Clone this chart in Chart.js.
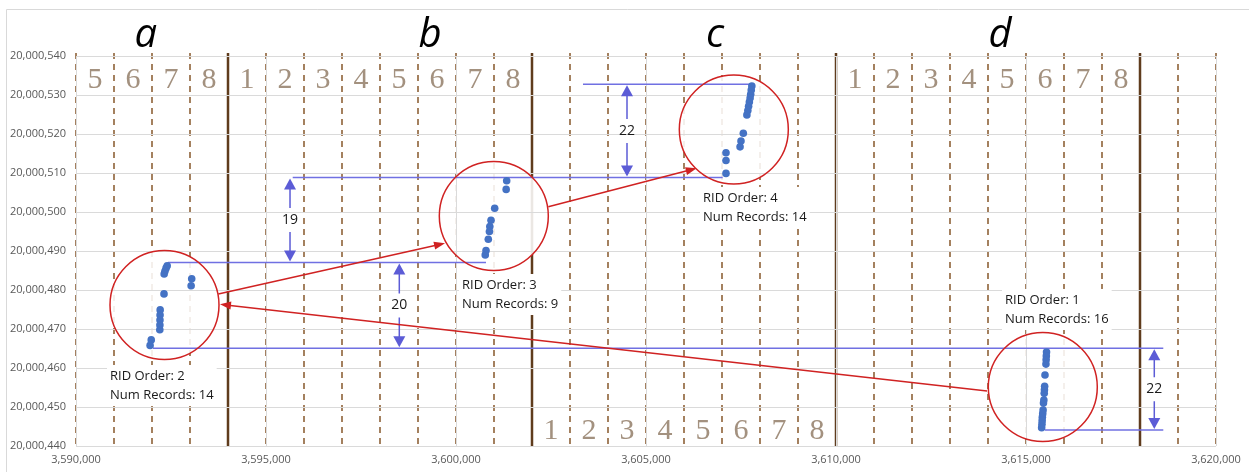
<!DOCTYPE html>
<html><head><meta charset="utf-8">
<script src="https://cdn.jsdelivr.net/npm/chart.js@4.4.1/dist/chart.umd.min.js"></script>
<style>html,body{margin:0;padding:0;background:#fff;}canvas{display:block;}</style>
</head><body>
<canvas id="c" width="1249" height="472"></canvas>
<script>
// ---- data ----
const rid1X = [3615540,3615535,3615530,3615525,3615500,3615490,3615485,3615480,3615470,3615460,3615450,3615440,3615430,3615425,3615420,3615412];
const rid1Y = [20000464.1,20000463.1,20000462.1,20000461.0,20000458.2,20000455.3,20000454.4,20000453.5,20000451.8,20000451.0,20000449.2,20000448.3,20000447.4,20000446.5,20000445.6,20000444.7];
const rid2X = [3592400,3592370,3592340,3592320,3593045,3593030,3592316,3592215,3592212,3592210,3592208,3592205,3591980,3591950];
const rid2Y = [20000486.2,20000485.6,20000484.8,20000484.1,20000482.9,20000481.1,20000479.0,20000474.9,20000473.6,20000472.3,20000471.0,20000469.8,20000467.2,20000465.8];
const rid3X = [3601334,3601320,3601018,3600921,3600890,3600880,3600850,3600790,3600770];
const rid3Y = [20000508.0,20000505.8,20000500.95,20000497.9,20000496.3,20000495.0,20000493.0,20000490.1,20000489.0];
const rid4X = [3607785,3607770,3607755,3607740,3607720,3607700,3607680,3607655,3607561,3607500,3607475,3607105,3607105,3607105];
const rid4Y = [20000532.3,20000531.3,20000530.2,20000529.2,20000528.2,20000527.1,20000526.0,20000524.9,20000520.2,20000518.2,20000516.7,20000515.2,20000513.2,20000509.9];

const xMin = 3590000, xMax = 3620000, xStep = 5000;
const yMin = 20000440, yMax = 20000540, yStep = 10;

// panel letters
const panelLetters = ['a','b','c','d'];
const panelLetterX = [3591834,3599316,3606816,3614316];
const panelLetterY = 20000542.4;

// divider lines
const dashedX = [3590000,3591000,3592000,3593000,3595000,3596000,3597000,3598000,3599000,3600000,3601000,
  3603000,3604000,3605000,3606000,3607000,3608000,3609000,3611000,3612000,3613000,3614000,3615000,3616000,3617000,3619000,3620000];
const solidX = [3594000,3602000,3610000,3618000];

// slot digits
const topDigits = ['5','6','7','8','1','2','3','4','5','6','7','8','1','2','3','4','5','6','7','8'];
const topDigitX = [3590500,3591500,3592500,3593500,3594500,3595500,3596500,3597500,3598500,3599500,3600500,3601500,
  3610500,3611500,3612500,3613500,3614500,3615500,3616500,3617500];
const topDigitY = 20000531.7;
const bottomDigits = ['1','2','3','4','5','6','7','8'];
const bottomDigitX = [3602500,3603500,3604500,3605500,3606500,3607500,3608500,3609500];
const bottomDigitY = 20000441.8;

// circles (centres)
const circleX = [3592329,3600995,3607311,3615442];
const circleY = [20000476.15,20000498.97,20000521.15,20000455.13];

// red arrows [x1,y1,x2,y2]
const redArrows = [
  [3593745,20000478.97,3599711,20000491.97],
  [3602429,20000501.36,3606334,20000511.2],
  [3613974,20000454.1,3593789,20000476.33]
];

// blue reference lines [y, xStart, xEnd]
const refLineY = [20000532.74,20000508.85,20000487.05,20000465.05,20000444.1];
const refLineX1 = [3603342,3595703,3592421,3592026,3615500];
const refLineX2 = [3607789,3607018,3600789,3618613,3618613];

// dimension arrows
const dimX = [3595632,3598508,3604500,3618376];
const dimTop = [20000508.85,20000487.05,20000532.74,20000465.05];
const dimBottom = [20000487.05,20000465.05,20000508.85,20000444.1];
const dimLabels = ['19','20','22','22'];

// text labels
const noteX = [3590895,3600158,3606500,3614447];
const noteY = [20000457.95,20000481.28,20000503.6,20000477.44];
const noteLine1 = ['RID Order: 2','RID Order: 3','RID Order: 4','RID Order: 1'];
const noteLine2 = ['Num Records: 14','Num Records: 9','Num Records: 14','Num Records: 16'];

function fmt(v){ return Math.round(v).toString().replace(/\B(?=(\d{3})+(?!\d))/g, ','); }
function pts(xs, ys){ return xs.map((v,i)=>({x:v,y:ys[i]})); }

const BLUE_LINE = 'rgb(112,112,226)';
const BLUE_HEAD = 'rgb(92,92,214)';
const RED = 'rgb(208,34,34)';

function arrowHead(ctx, x1, y1, x2, y2, len, wid, color){
  const a = Math.atan2(y2-y1, x2-x1);
  ctx.save(); ctx.fillStyle = color;
  ctx.translate(x2, y2); ctx.rotate(a);
  ctx.beginPath(); ctx.moveTo(0,0); ctx.lineTo(-len, wid/2); ctx.lineTo(-len, -wid/2); ctx.closePath(); ctx.fill();
  ctx.restore();
}

const overlay = {
  id: 'overlay',
  beforeDraw(chart){
    const {ctx, chartArea: ca} = chart;
    const sx = chart.scales.x, sy = chart.scales.y;
    const px = v => sx.getPixelForValue(v), py = v => sy.getPixelForValue(v);
    ctx.save();
    // outer frame
    ctx.strokeStyle = '#d9d9d9'; ctx.lineWidth = 1;
    ctx.beginPath(); ctx.moveTo(6.5, 472); ctx.lineTo(6.5, 9.5); ctx.lineTo(1249, 9.5); ctx.stroke();
    // dashed dividers
    ctx.strokeStyle = '#8e6238'; ctx.lineWidth = 1.6; ctx.setLineDash([6,5]);
    dashedX.forEach(v => { const X = px(v); ctx.beginPath(); ctx.moveTo(X, ca.top - 3); ctx.lineTo(X, ca.bottom); ctx.stroke(); });
    ctx.setLineDash([]);
    ctx.strokeStyle = '#5f3c1d'; ctx.lineWidth = 2.5;
    solidX.forEach(v => { const X = px(v); ctx.beginPath(); ctx.moveTo(X, ca.top - 3); ctx.lineTo(X, ca.bottom); ctx.stroke(); });
    // digits
    ctx.fillStyle = '#a3917f'; ctx.font = '30px "Liberation Serif", "DejaVu Serif", serif';
    ctx.textAlign = 'center'; ctx.textBaseline = 'alphabetic';
    topDigits.forEach((t,i) => ctx.fillText(t, px(topDigitX[i]), py(topDigitY)));
    bottomDigits.forEach((t,i) => ctx.fillText(t, px(bottomDigitX[i]), py(bottomDigitY)));
    // circle fills (fade lines behind)
    ctx.fillStyle = 'rgba(255,255,255,0.88)';
    circleX.forEach((v,i) => { ctx.beginPath(); ctx.arc(px(v), py(circleY[i]), 54.5, 0, Math.PI*2); ctx.fill(); });
    ctx.restore();
  },
  beforeDatasetsDraw(chart){
    const {ctx} = chart;
    const sx = chart.scales.x, sy = chart.scales.y;
    const px = v => sx.getPixelForValue(v), py = v => sy.getPixelForValue(v);
    ctx.save();
    // note boxes
    ctx.font = '13px "Open Sans", sans-serif'; ctx.textAlign = 'left'; ctx.textBaseline = 'middle';
    noteX.forEach((v,i) => {
      const X = px(v), Y = py(noteY[i]);
      const w = Math.max(ctx.measureText(noteLine1[i]).width, ctx.measureText(noteLine2[i]).width);
      ctx.fillStyle = '#fff'; ctx.fillRect(X - 3, Y - 11, w + 6, 41);
      ctx.fillStyle = '#1a1a1a';
      ctx.fillText(noteLine1[i], X, Y);
      ctx.fillText(noteLine2[i], X, Y + 19);
    });
    // blue reference lines
    ctx.strokeStyle = BLUE_LINE; ctx.lineWidth = 1.5;
    refLineY.forEach((v,i) => { const Y = py(v); ctx.beginPath(); ctx.moveTo(px(refLineX1[i]), Y); ctx.lineTo(px(refLineX2[i]), Y); ctx.stroke(); });
    // dimension arrows
    ctx.font = '14px "Open Sans", sans-serif'; ctx.textAlign = 'center'; ctx.textBaseline = 'middle';
    dimX.forEach((v,i) => {
      const X = px(v), Y1 = py(dimTop[i]), Y2 = py(dimBottom[i]), M = (Y1+Y2)/2;
      ctx.strokeStyle = BLUE_HEAD; ctx.lineWidth = 1.5;
      ctx.beginPath(); ctx.moveTo(X, Y1 + 10); ctx.lineTo(X, M - 12); ctx.moveTo(X, M + 12); ctx.lineTo(X, Y2 - 10); ctx.stroke();
      arrowHead(ctx, X, M, X, Y1 + 1, 11, 12, BLUE_HEAD);
      arrowHead(ctx, X, M, X, Y2 - 1, 11, 12, BLUE_HEAD);
      ctx.fillStyle = '#1a1a1a'; ctx.fillText(dimLabels[i], X, M);
    });
    // circles
    ctx.strokeStyle = RED; ctx.lineWidth = 1.5;
    circleX.forEach((v,i) => { ctx.beginPath(); ctx.arc(px(v), py(circleY[i]), 54.5, 0, Math.PI*2); ctx.stroke(); });
    // red arrows
    redArrows.forEach(a => {
      const x1 = px(a[0]), y1 = py(a[1]), x2 = px(a[2]), y2 = py(a[3]);
      const ang = Math.atan2(y2-y1, x2-x1);
      ctx.strokeStyle = RED; ctx.lineWidth = 1.5;
      ctx.beginPath(); ctx.moveTo(x1, y1); ctx.lineTo(x2 - Math.cos(ang)*8, y2 - Math.sin(ang)*8); ctx.stroke();
      arrowHead(ctx, x1, y1, x2, y2, 11, 8, RED);
    });
    // panel letters
    ctx.fillStyle = '#000'; ctx.font = 'italic 40px "Open Sans", sans-serif';
    ctx.textAlign = 'center'; ctx.textBaseline = 'alphabetic';
    panelLetters.forEach((t,i) => ctx.fillText(t, px(panelLetterX[i]), py(panelLetterY)));
    ctx.restore();
  }
};

const dsStyle = {pointRadius: 3.8, pointHoverRadius: 3.8, pointBackgroundColor: '#4472c4', pointBorderWidth: 0, showLine: false};
new Chart(document.getElementById('c'), {
  type: 'scatter',
  data: { datasets: [
    Object.assign({label: 'RID 1', data: pts(rid1X, rid1Y)}, dsStyle),
    Object.assign({label: 'RID 2', data: pts(rid2X, rid2Y)}, dsStyle),
    Object.assign({label: 'RID 3', data: pts(rid3X, rid3Y)}, dsStyle),
    Object.assign({label: 'RID 4', data: pts(rid4X, rid4Y)}, dsStyle)
  ]},
  options: {
    responsive: false, animation: false, devicePixelRatio: 1,
    layout: { padding: { top: 56, right: 33, left: 0, bottom: 0 } },
    plugins: { legend: { display: false }, tooltip: { enabled: false } },
    scales: {
      x: { type: 'linear', min: xMin, max: xMax,
        ticks: { stepSize: xStep, callback: v => fmt(v), font: { family: '"Open Sans", sans-serif', size: 11 }, color: '#595959', padding: 7, maxRotation: 0, autoSkip: false },
        grid: { color: '#dadada', lineWidth: 1, drawTicks: false }, border: { display: false },
        afterFit(s){ s.height = 26; } },
      y: { type: 'linear', min: yMin, max: yMax,
        ticks: { stepSize: yStep, callback: v => fmt(v), font: { family: '"Open Sans", sans-serif', size: 11 }, color: '#595959', padding: 10, autoSkip: false },
        grid: { color: '#dadada', lineWidth: 1, drawTicks: false }, border: { display: false },
        afterFit(s){ s.width = 76; } }
    }
  },
  plugins: [overlay]
});
</script>
</body></html>
